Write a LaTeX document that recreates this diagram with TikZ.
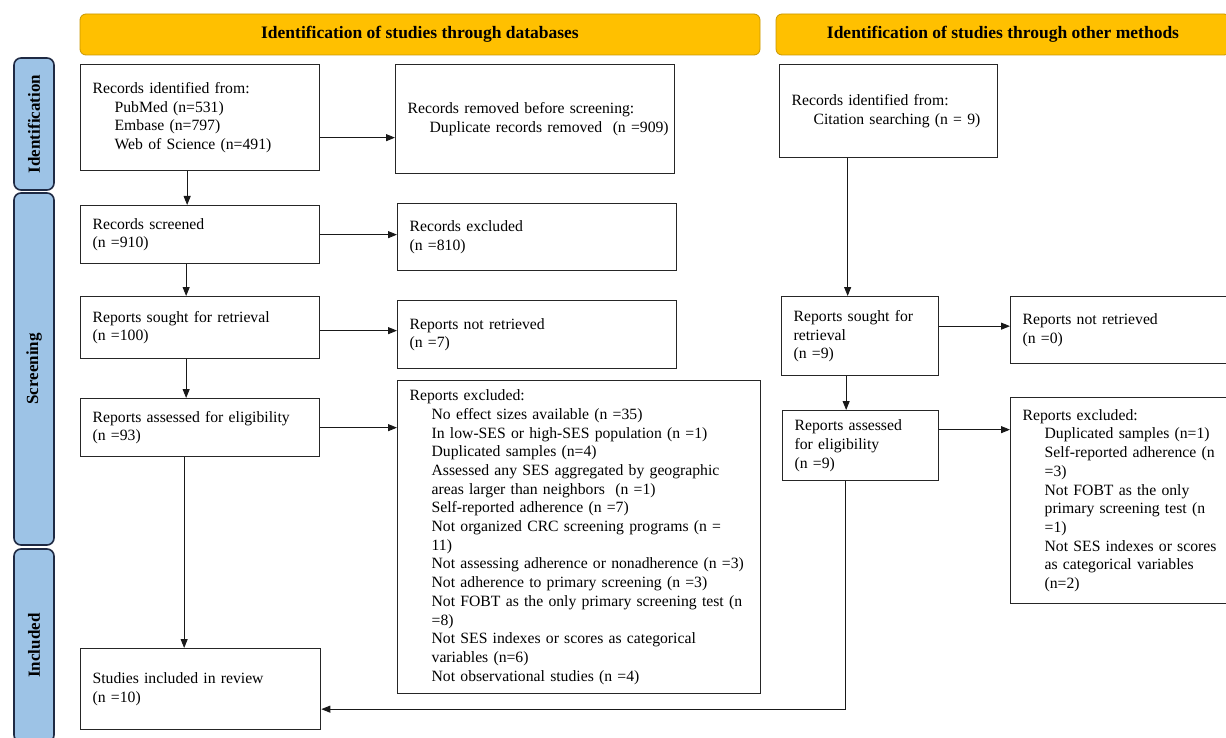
\documentclass[tikz,border=0pt]{standalone}
\usepackage{fontspec}
\setmainfont{Liberation Serif}
\usetikzlibrary{arrows.meta}
\definecolor{bannergold}{HTML}{FFC000}
\definecolor{bannerline}{HTML}{C99700}
\definecolor{barblue}{HTML}{9DC3E6}
\definecolor{barline}{HTML}{1F2A44}
\def\ind#1{\hspace*{22pt}\mbox{#1}}
\tikzset{
  box/.style={draw=black!85, line width=1.3pt, fill=white, anchor=north west, align=left,
    inner xsep=12pt, inner ysep=0pt, font=\fontsize{15.7}{18.7}\selectfont},
  banner/.style={draw=bannerline, line width=0.8pt, fill=bannergold, rounded corners=6pt,
    minimum height=41pt, font=\fontsize{17.5}{20}\selectfont\bfseries},
  sidebar/.style={draw=barline, line width=1.6pt, fill=barblue, rounded corners=7pt,
    rotate=90, minimum height=40pt, font=\fontsize{17}{20}\selectfont\bfseries},
  arr/.style={line width=0.9pt, draw=black!90, -{Triangle[length=9pt,width=7pt]}}
}
\begin{document}
\begin{tikzpicture}[x=1pt,y=-1pt]
\useasboundingbox (0,0) rectangle (1226,738);

%%%%% banners and side bars %%%%%
\node[banner, minimum width=680pt] (dbhead) at (420,34.5) {Identification of studies through databases};
\node[banner, minimum width=454pt] (othhead) at (1003,34.5) {Identification of studies through other methods};

\node[sidebar, minimum width=132pt] (idbar) at (34,124) {Identification};
\node[sidebar, minimum width=352pt] (scrbar) at (34,369) {Screening};
\node[sidebar, minimum width=193pt] (incbar) at (34,645.5) {Included};

%%%%% databases %%%%%
\node[box, text width=215pt, minimum height=106pt] (recid) at (80,64)
  {Records identified from:\\ \ind{PubMed (n=531)}\\ \ind{Embase (n=797)}\\ \ind{Web of Science (n=491)}};
\node[box, text width=255pt, minimum height=109pt] (removed) at (395,64)
  {Records removed before screening:\\ \ind{Duplicate records removed\ \ (n =909)}};

\node[box, text width=215pt, minimum height=58pt] (screened) at (80,205)
  {Records screened\\ (n =910)};
\node[box, text width=255pt, minimum height=67pt] (excl) at (397,203)
  {Records excluded\\ (n =810)};

\node[box, text width=215pt, minimum height=62pt] (sought) at (80,296)
  {Reports sought for retrieval\\ (n =100)};
\node[box, text width=255pt, minimum height=68pt] (notret) at (397,300)
  {Reports not retrieved\\ (n =7)};

\node[box, text width=215pt, minimum height=58pt] (assessed) at (80,398)
  {Reports assessed for eligibility\\ (n =93)};
\node[box, text width=339pt, minimum height=313pt] (repexcl) at (397,380)
  {Reports excluded:\\
   \ind{No effect sizes available (n =35)}\\
   \ind{In low-SES or high-SES population (n =1)}\\
   \ind{Duplicated samples (n=4)}\\
   \ind{Assessed any SES aggregated by geographic}\\
   \ind{areas larger than neighbors\ \ (n =1)}\\
   \ind{Self-reported adherence (n =7)}\\
   \ind{Not organized CRC screening programs (n =}\\
   \ind{11)}\\
   \ind{Not assessing adherence or nonadherence (n =3)}\\
   \ind{Not adherence to primary screening (n =3)}\\
   \ind{Not FOBT as the only primary screening test (n}\\
   \ind{=8)}\\
   \ind{Not SES indexes or scores as categorical}\\
   \ind{variables (n=6)}\\
   \ind{Not observational studies (n =4)}};

\node[box, text width=216pt, minimum height=81pt] (included) at (80,648)
  {Studies included in review\\ (n =10)};

%%%%% other methods %%%%%
\node[box, text width=194pt, minimum height=93pt] (othid) at (779,64)
  {Records identified from:\\ \ind{Citation searching (n = 9)}};
\node[box, text width=133pt, minimum height=79pt] (othsought) at (781,296)
  {Reports sought for\\ retrieval\\ (n =9)};
\node[box, text width=216pt, minimum height=67pt] (othnotret) at (1010,296)
  {Reports not retrieved\\ (n =0)};
\node[box, text width=132pt, minimum height=70pt] (othassessed) at (782,410)
  {Reports assessed\\ for eligibility\\ (n =9)};
\node[box, text width=216pt, minimum height=206pt] (othexcl) at (1010,397)
  {Reports excluded:\\
   \ind{Duplicated samples (n=1)}\\
   \ind{Self-reported adherence (n}\\
   \ind{=3)}\\
   \ind{Not FOBT as the only}\\
   \ind{primary screening test (n}\\
   \ind{=1)}\\
   \ind{Not SES indexes or scores}\\
   \ind{as categorical variables}\\
   \ind{(n=2)}};

%%%%% connectors %%%%%
\draw[arr] ([yshift=-20pt]recid.east) -- ([yshift=-20pt]recid.east -| removed.west);
\draw[arr] ([xshift=-13pt]recid.south) -- ([xshift=-13pt]recid.south |- screened.north);
\draw[arr] (screened.east) -- (screened.east -| excl.west);
\draw[arr] ([xshift=-14pt]screened.south) -- ([xshift=-14pt]screened.south |- sought.north);
\draw[arr] ([yshift=-3pt]sought.east) -- ([yshift=-3pt]sought.east -| notret.west);
\draw[arr] ([xshift=-14pt]sought.south) -- ([xshift=-14pt]sought.south |- assessed.north);
\draw[arr] (assessed.east) -- (assessed.east -| repexcl.west);
\draw[arr] ([xshift=-16pt]assessed.south) -- ([xshift=-16pt]assessed.south |- included.north);

\draw[arr] ([xshift=-41pt]othid.south) -- ([xshift=-41pt]othid.south |- othsought.north);
\draw[arr] ([yshift=10pt]othsought.east) -- ([yshift=10pt]othsought.east -| othnotret.west);
\draw[arr] ([xshift=-14pt]othsought.south) -- ([xshift=-14pt]othsought.south |- othassessed.north);
\draw[arr] ([yshift=16pt]othassessed.east) -- ([yshift=16pt]othassessed.east -| othexcl.west);
\draw[arr] ([xshift=-15pt]othassessed.south) |- ([yshift=-20pt]included.east);
\end{tikzpicture}
\end{document}
